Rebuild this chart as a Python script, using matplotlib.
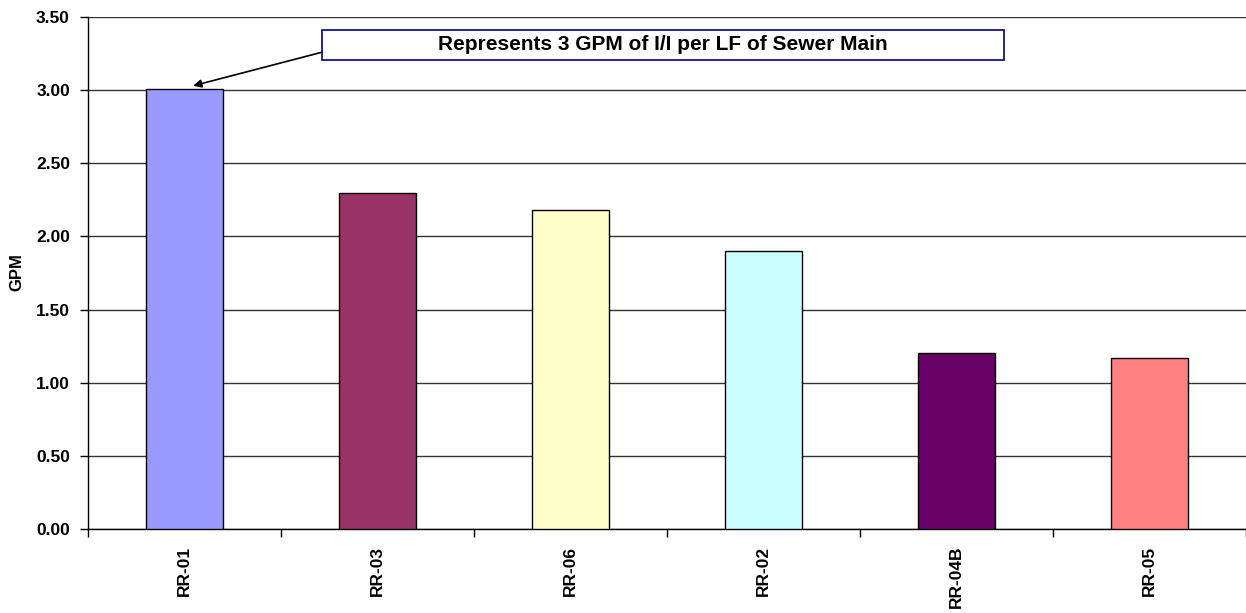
import matplotlib
matplotlib.use("Agg")
import matplotlib.pyplot as plt
from matplotlib.patches import Rectangle
import numpy as np

categories = ["RR-01", "RR-03", "RR-06", "RR-02", "RR-04B", "RR-05"]
values = [3.01, 2.30, 2.18, 1.90, 1.20, 1.17]
colors = ["#9999FF", "#993366", "#FFFFCC", "#CCFFFF", "#660066", "#FF8080"]
yticks = [0.0, 0.5, 1.0, 1.5, 2.0, 2.5, 3.0, 3.5]
annotation_text = "Represents 3 GPM of I/I per LF of Sewer Main"

plt.rcParams['font.family'] = ['Liberation Sans', 'DejaVu Sans']

fig = plt.figure(figsize=(12.46, 6.13), dpi=100)
ax = fig.add_axes([88/1246, (613-529)/613, 1 - 88/1246, (529-17)/613])

x = np.arange(len(categories))
ax.bar(x, values, width=0.4, color=colors, edgecolor="black", linewidth=1.0, zorder=3)

ax.set_xlim(-0.5, len(categories) - 0.5)
ax.set_ylim(0, 3.5)
ax.set_yticks(yticks)
ax.set_yticklabels([f"{v:.2f}" for v in yticks], fontsize=12.5, fontweight="bold")
ax.yaxis.grid(True, color="#333333", linewidth=1.0, zorder=0)
ax.set_axisbelow(True)

ax.set_xticks(x)
ax.set_xticklabels(categories, rotation=90, fontsize=12.5, fontweight="bold")
ax.set_xticks(np.arange(-0.5, len(categories) + 0.5, 1), minor=True)
ax.tick_params(axis="x", which="major", length=0, pad=12)
ax.tick_params(axis="x", which="minor", length=6, width=1, direction="out", color="black")
ax.tick_params(axis="y", length=6, width=1, direction="out", pad=7, color="black")

for s in ["top", "right"]:
    ax.spines[s].set_visible(False)
for s in ["left", "bottom"]:
    ax.spines[s].set_color("black")
    ax.spines[s].set_linewidth(1.0)

fig.text(17/1246, 1 - 272/613, "GPM", rotation=90, fontsize=12, fontweight="bold",
         ha="center", va="center")

# annotation box
bx0 = (321.7 - 88) / 1158
bx1 = (1004 - 88) / 1158
by0 = (529 - 59.5) / 512
by1 = (529 - 29.5) / 512
rect = Rectangle((bx0, by0), bx1 - bx0, by1 - by0, transform=ax.transAxes,
                 facecolor="white", edgecolor="#000080", linewidth=1.2, zorder=5, clip_on=False)
ax.add_patch(rect)
ax.text((bx0 + bx1) / 2, (by0 + by1) / 2, annotation_text, transform=ax.transAxes,
        ha="center", va="center", fontsize=15, fontweight="bold", zorder=6)
ax.annotate("", xy=(0.045, 3.03), xycoords="data",
            xytext=(bx0, (529 - 52.3) / 512), textcoords="axes fraction",
            arrowprops=dict(arrowstyle="-|>", color="black", lw=1.2, mutation_scale=12,
                            shrinkA=0, shrinkB=0), zorder=6)

fig.savefig("out.png", dpi=100)
